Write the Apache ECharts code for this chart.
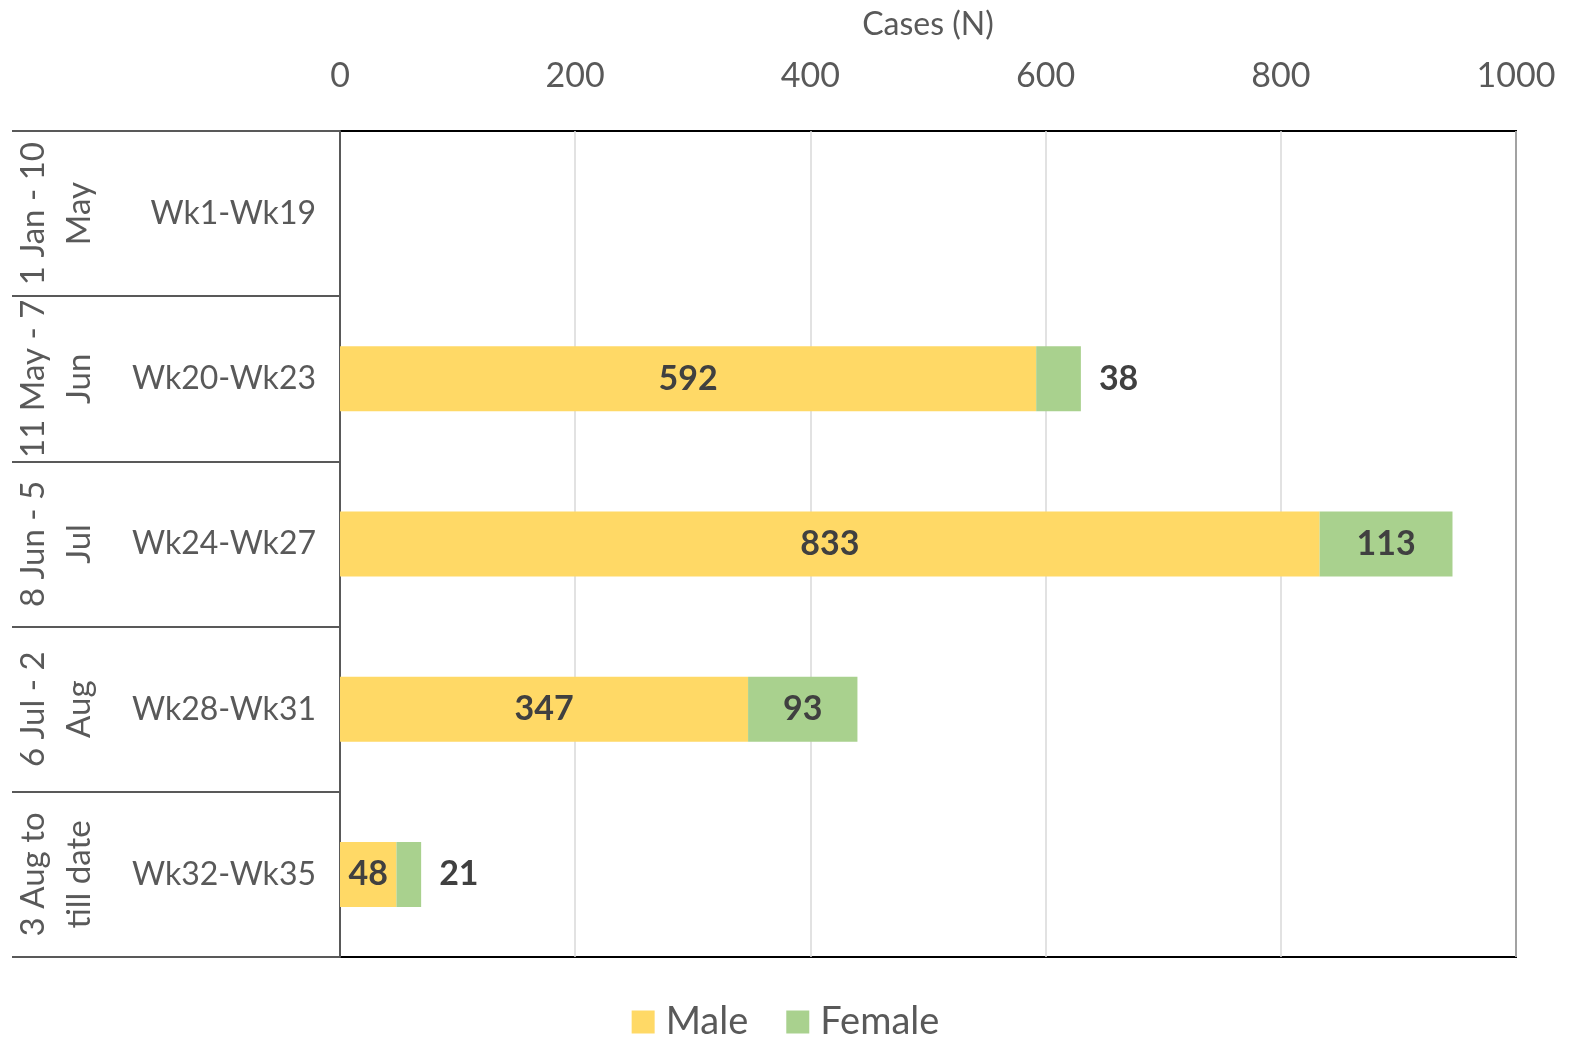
<!DOCTYPE html>
<html>
<head>
<meta charset="utf-8">
<script src="https://cdn.jsdelivr.net/npm/echarts@6/dist/echarts.min.js"></script>
<style>html,body{margin:0;padding:0;background:#fff}#c{width:1571px;height:1037px}</style>
</head>
<body>
<div id="c"></div>
<script>
const weeks = ['Wk1-Wk19', 'Wk20-Wk23', 'Wk24-Wk27', 'Wk28-Wk31', 'Wk32-Wk35'];
const periods = ['1 Jan - 10\nMay', '11 May - 7\nJun', '8 Jun - 5\nJul', '6 Jul - 2\nAug', '3 Aug to\ntill date'];
const male = [null, 592, 833, 347, 48];
const female = [null, 38, 113, 93, 21];
const xTicks = [0, 200, 400, 600, 800, 1000];

const FONT = 'Lato, "Open Sans", sans-serif';
const textGray = '#595959';
const labelDark = '#404040';

function femaleData(arr) {
  return arr.map(v => {
    if (v == null) return null;
    if (v < 50) return { value: v, label: { position: 'right', distance: 18 } };
    return v;
  });
}

const chart = echarts.init(document.getElementById('c'));
chart.setOption({
  animation: false,
  textStyle: { fontFamily: FONT },
  grid: {
    left: 340, right: 55, top: 131, bottom: 80,
    containLabel: false, outerBoundsMode: 'none',
    show: true, borderColor: '#000', borderWidth: 2, backgroundColor: 'transparent'
  },
  legend: {
    top: 998, left: 'center',
    icon: 'rect', itemWidth: 23, itemHeight: 23, itemGap: 38,
    textStyle: { fontSize: 38, color: textGray, fontFamily: FONT, padding: [0, 0, 0, 6] },
    data: ['Male', 'Female']
  },
  xAxis: {
    type: 'value', position: 'top',
    min: xTicks[0], max: xTicks[xTicks.length - 1], interval: 200,
    name: 'Cases (N)', nameLocation: 'middle', nameGap: 90,
    nameTextStyle: { fontSize: 32, color: textGray, fontFamily: FONT },
    axisLine: { show: false }, axisTick: { show: false },
    axisLabel: { fontSize: 34, color: textGray, margin: 38, fontFamily: FONT, formatter: v => String(v) },
    splitLine: { show: true, lineStyle: { color: '#d9d9d9', width: 1.5 } }
  },
  yAxis: [
    {
      type: 'category', inverse: true, data: weeks,
      axisLine: { show: true, lineStyle: { color: '#595959', width: 2 } },
      axisTick: { show: true, length: 328, lineStyle: { color: '#595959', width: 2 } },
      axisLabel: { fontSize: 32, color: textGray, margin: 24, interval: 0, fontFamily: FONT }
    },
    {
      type: 'category', inverse: true, data: periods, position: 'left',
      axisLine: { show: false }, axisTick: { show: false },
      axisLabel: { fontSize: 33, color: textGray, margin: 238, rotate: 90, interval: 0, hideOverlap: false, lineHeight: 46, fontFamily: FONT, align: 'center' }
    }
  ],
  series: [
    {
      name: 'Male', type: 'bar', stack: 'total', barWidth: 65,
      itemStyle: { color: '#FFD966' },
      label: { show: true, position: 'inside', fontSize: 34, fontWeight: 'bold', color: labelDark, fontFamily: FONT },
      data: male
    },
    {
      name: 'Female', type: 'bar', stack: 'total', barWidth: 65,
      itemStyle: { color: '#A9D18E' },
      label: { show: true, position: 'inside', fontSize: 34, fontWeight: 'bold', color: labelDark, fontFamily: FONT },
      data: femaleData(female)
    }
  ]
});
</script>
</body>
</html>
